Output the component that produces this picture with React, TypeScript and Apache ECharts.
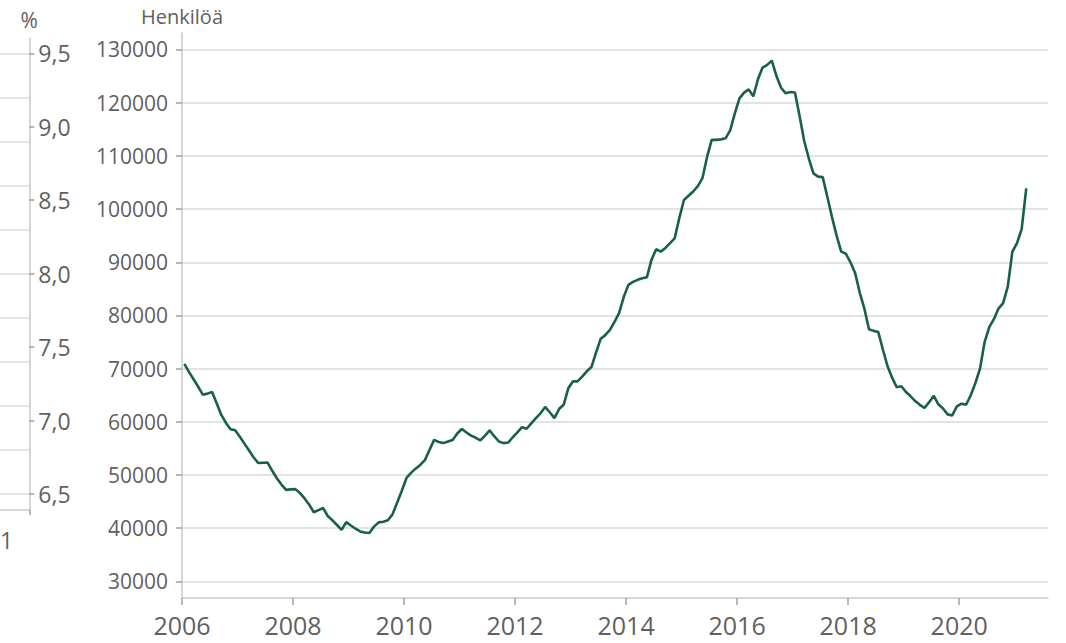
import React, { useEffect, useRef } from "react";
import * as echarts from "echarts";

// Monthly values (persons), Jan..Dec
const v2006 = [70900, 69400, 68000, 66600, 65100, 65300, 65600, 63500, 61300, 59800, 58600, 58400];
const v2007 = [57200, 55900, 54600, 53300, 52250, 52300, 52350, 50800, 49400, 48200, 47200, 47300];
const v2008 = [47350, 46600, 45600, 44400, 43000, 43400, 43800, 42300, 41500, 40600, 39700, 41150];
const v2009 = [40500, 39900, 39400, 39200, 39100, 40300, 41100, 41200, 41500, 42600, 44800, 47000];
const v2010 = [49400, 50400, 51200, 51900, 52800, 54700, 56600, 56200, 56000, 56300, 56600, 57800];
const v2011 = [58650, 58000, 57400, 57000, 56500, 57400, 58400, 57300, 56300, 56000, 56100, 57100];
const v2012 = [58000, 59000, 58700, 59700, 60700, 61600, 62800, 61800, 60700, 62400, 63200, 66300];
const v2013 = [67600, 67600, 68500, 69500, 70300, 73000, 75600, 76300, 77300, 78800, 80500, 83500];
const v2014 = [85750, 86300, 86700, 87000, 87200, 90500, 92450, 92000, 92700, 93600, 94500, 98300];
const v2015 = [101700, 102500, 103300, 104300, 105800, 109800, 113000, 113000, 113100, 113300, 114800, 118000];
const v2016 = [120800, 121900, 122500, 121200, 124400, 126600, 127100, 127900, 125000, 122800, 121750, 122000];
const v2017 = [121900, 117500, 112800, 109500, 106700, 106100, 106000, 102300, 98500, 95000, 92000, 91600];
const v2018 = [90000, 88000, 84300, 81300, 77400, 77100, 76900, 73600, 70500, 68300, 66500, 66700];
const v2019 = [65600, 64800, 63900, 63200, 62600, 63700, 64900, 63300, 62500, 61400, 61200, 62900];
const v2020 = [63400, 63200, 65000, 67300, 70000, 75000, 77800, 79300, 81300, 82300, 85400, 92000];
const v2021 = [93600, 96200, 103900];

const yearRows: [number, number[]][] = [
  [2006, v2006], [2007, v2007], [2008, v2008], [2009, v2009], [2010, v2010],
  [2011, v2011], [2012, v2012], [2013, v2013], [2014, v2014], [2015, v2015],
  [2016, v2016], [2017, v2017], [2018, v2018], [2019, v2019], [2020, v2020],
  [2021, v2021],
];

const xTickYears = [2006, 2008, 2010, 2012, 2014, 2016, 2018, 2020];
const yTicks = [30000, 40000, 50000, 60000, 70000, 80000, 90000, 100000, 110000, 120000, 130000];
const pctTicks = [6.5, 7.0, 7.5, 8.0, 8.5, 9.0, 9.5];
const pctGridLines = [6.5, 6.8, 7.1, 7.4, 7.7, 8.0, 8.3, 8.6, 8.9, 9.2, 9.5];

const FONT = "'Open Sans', 'Noto Sans', sans-serif";
const TEXT = "#606060";
const AXIS = "#c8c8c8";
const GRID = "#dadada";
const LINE = "#17604f";

export default function App() {
  const ref = useRef<HTMLDivElement>(null);

  useEffect(() => {
    if (!ref.current) return;
    const chart = echarts.init(ref.current, null, { renderer: "svg" });

    const data: [number, number][] = [];
    yearRows.forEach(([y, vals]) => {
      vals.forEach((v, m) => data.push([y + (m + 0.5) / 12, v]));
    });

    chart.setOption({
      animation: false,
      backgroundColor: "#ffffff",
      textStyle: { fontFamily: FONT },
      grid: [
        { left: 182, width: 866, top: 33, height: 565, containLabel: false, outerBoundsMode: "none" },
        { left: -300, width: 329.3, top: 38.3, height: 471.7, containLabel: false, outerBoundsMode: "none" },
      ],
      xAxis: [
        {
          gridIndex: 0,
          type: "value",
          min: 2006,
          max: 2021.6,
          axisLine: { show: true, onZero: false, lineStyle: { color: AXIS, width: 1.5 } },
          axisTick: { show: true, length: 7, customValues: xTickYears, lineStyle: { color: "#a0a0a0", width: 1.5 } },
          axisLabel: {
            customValues: xTickYears,
            color: TEXT,
            fontSize: 25,
            fontFamily: FONT,
            margin: 14,
            formatter: (v: number) => String(Math.round(v)),
          },
          splitLine: { show: false },
        },
        {
          gridIndex: 1,
          type: "value",
          min: 0,
          max: 1,
          axisLine: { show: true, onZero: false, lineStyle: { color: AXIS, width: 1.5 } },
          axisTick: { show: true, length: 5, customValues: [1], lineStyle: { color: "#a0a0a0", width: 1.5 } },
          axisLabel: { show: false },
          splitLine: { show: false },
        },
      ],
      yAxis: [
        {
          gridIndex: 0,
          type: "value",
          min: 26880,
          max: 133100,
          name: "Henkilöä",
          nameLocation: "end",
          nameGap: 7,
          nameTextStyle: { color: TEXT, fontSize: 20, fontFamily: FONT, align: "center" },
          axisLine: { show: true, onZero: false, lineStyle: { color: AXIS, width: 1.5 } },
          axisTick: { show: true, length: 6, customValues: yTicks, lineStyle: { color: "#a0a0a0", width: 1.5 } },
          axisLabel: {
            customValues: yTicks,
            color: TEXT,
            fontSize: 21,
            fontFamily: FONT,
            margin: 14,
            formatter: (v: number) => String(Math.round(v)),
          },
          splitLine: { show: true, lineStyle: { color: GRID, width: 1.5 } },
        },
        {
          gridIndex: 1,
          type: "value",
          position: "right",
          min: 6.391,
          max: 9.602,
          name: "%",
          nameLocation: "end",
          nameGap: 8,
          nameTextStyle: { color: TEXT, fontSize: 21, fontFamily: FONT, align: "center" },
          axisLine: { show: true, onZero: false, lineStyle: { color: AXIS, width: 1.5 } },
          axisTick: { show: true, length: 5, customValues: pctTicks, lineStyle: { color: "#a0a0a0", width: 1.5 } },
          axisLabel: {
            customValues: pctTicks,
            color: TEXT,
            fontSize: 23,
            fontFamily: FONT,
            margin: 9,
            formatter: (v: number) => v.toFixed(1).replace(".", ","),
          },
          splitLine: { show: false },
        },
        {
          gridIndex: 1,
          type: "value",
          position: "left",
          min: 6.391,
          max: 9.602,
          axisLine: { show: false, onZero: false },
          axisTick: { show: false, customValues: pctGridLines },
          axisLabel: { show: false },
          splitLine: { show: true, lineStyle: { color: GRID, width: 1.5 } },
        },
      ],
      graphic: [
        {
          type: "text",
          left: 0,
          top: 528,
          style: { text: "1", fill: TEXT, fontSize: 23, fontFamily: FONT },
        },
      ],
      series: [
        {
          type: "line",
          xAxisIndex: 0,
          yAxisIndex: 0,
          data,
          showSymbol: false,
          symbol: "none",
          lineStyle: { color: LINE, width: 2.6 },
          itemStyle: { color: LINE },
        },
      ],
    });

    return () => chart.dispose();
  }, []);

  return (
    <div
      ref={ref}
      style={{ position: "fixed", left: 0, top: 0, width: 1066, height: 643, background: "#fff" }}
    />
  );
}
